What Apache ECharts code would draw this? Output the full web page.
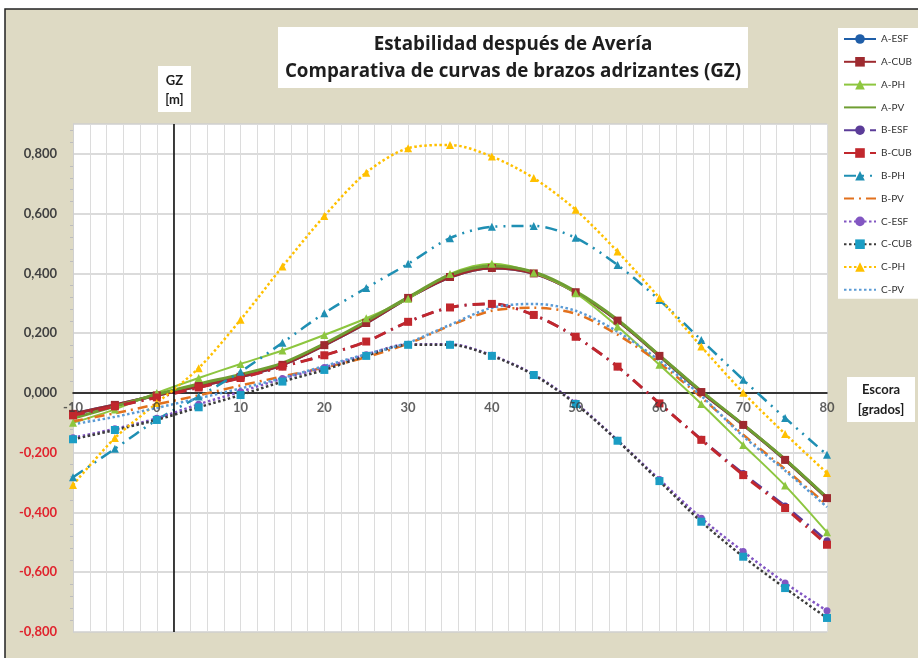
<!DOCTYPE html>
<html>
<head>
<meta charset="utf-8">
<script src="https://cdn.jsdelivr.net/npm/echarts@6/dist/echarts.min.js"></script>
<style>
  html, body { margin: 0; padding: 0; background: #ffffff; }
  #chart { width: 918px; height: 658px; }
</style>
</head>
<body>
<div id="chart"></div>
<script>
// Ángulo de escora [grados]
const escora = [-10, -5, 0, 5, 10, 15, 20, 25, 30, 35, 40, 45, 50, 55, 60, 65, 70, 75, 80];

// Rótulos del eje de escora (sobre la línea GZ = 0)
const marcasEscora = [-10, 0, 10, 20, 30, 40, 50, 60, 70, 80];

// Brazos adrizantes GZ [m] por condición de avería
const aEsf = [-0.070, -0.040, -0.008, 0.023, 0.054, 0.094, 0.160, 0.234, 0.318, 0.388, 0.418, 0.400, 0.337, 0.242, 0.124, 0.003, -0.107, -0.224, -0.352];
const aCub = [-0.070, -0.040, -0.008, 0.023, 0.054, 0.094, 0.160, 0.234, 0.318, 0.388, 0.418, 0.400, 0.337, 0.242, 0.124, 0.003, -0.107, -0.224, -0.352];
const aPh  = [-0.100, -0.055, 0.000, 0.050, 0.097, 0.142, 0.194, 0.250, 0.315, 0.398, 0.432, 0.402, 0.334, 0.222, 0.094, -0.037, -0.174, -0.310, -0.466];
const aPv  = [-0.085, -0.045, -0.005, 0.030, 0.062, 0.100, 0.165, 0.240, 0.320, 0.395, 0.425, 0.405, 0.340, 0.245, 0.126, 0.006, -0.106, -0.222, -0.350];
const bEsf = [-0.075, -0.045, -0.015, 0.018, 0.050, 0.088, 0.126, 0.172, 0.238, 0.286, 0.298, 0.261, 0.188, 0.088, -0.035, -0.155, -0.270, -0.378, -0.495];
const bCub = [-0.075, -0.045, -0.015, 0.018, 0.050, 0.088, 0.126, 0.172, 0.238, 0.286, 0.298, 0.261, 0.188, 0.088, -0.035, -0.157, -0.275, -0.385, -0.508];
const bPh  = [-0.282, -0.187, -0.090, -0.012, 0.071, 0.168, 0.267, 0.351, 0.432, 0.518, 0.556, 0.559, 0.519, 0.428, 0.311, 0.177, 0.044, -0.084, -0.207];
const bPv  = [-0.095, -0.068, -0.038, -0.008, 0.025, 0.055, 0.085, 0.120, 0.165, 0.225, 0.275, 0.285, 0.265, 0.195, 0.100, -0.015, -0.140, -0.255, -0.375];
const cEsf = [-0.150, -0.120, -0.085, -0.038, 0.004, 0.048, 0.085, 0.128, 0.163, 0.163, 0.126, 0.062, -0.034, -0.158, -0.290, -0.419, -0.531, -0.636, -0.729];
const cCub = [-0.155, -0.124, -0.090, -0.048, -0.007, 0.038, 0.077, 0.124, 0.161, 0.161, 0.124, 0.060, -0.037, -0.160, -0.295, -0.431, -0.548, -0.653, -0.753];
const cPh  = [-0.308, -0.151, -0.034, 0.083, 0.245, 0.423, 0.592, 0.737, 0.819, 0.830, 0.791, 0.719, 0.613, 0.473, 0.318, 0.155, 0.001, -0.137, -0.268];
const cPv  = [-0.105, -0.080, -0.050, -0.018, 0.015, 0.050, 0.090, 0.130, 0.168, 0.228, 0.285, 0.298, 0.275, 0.205, 0.108, -0.010, -0.145, -0.260, -0.382];

// Eje vertical GZ dibujado en esta escora
const ejeGZ = 2;

const FONT = 'Lato, "Open Sans", sans-serif';
const FONT_TITULO = '"Open Sans", Lato, sans-serif';

function pares(ys) {
  return escora.map((x, i) => [x, ys[i]]);
}

function serie(name, ys, cfg) {
  const conMarca = !!cfg.symbol;
  return {
    name: name,
    type: 'line',
    data: pares(ys),
    smooth: 0.3,
    symbol: cfg.symbol || 'circle',
    symbolSize: cfg.size || 8,
    showSymbol: conMarca,
    lineStyle: {
      color: cfg.line,
      width: cfg.width || 2.5,
      type: cfg.type || 'solid'
    },
    // las curvas sin marcador tampoco lo muestran en la leyenda
    itemStyle: { color: cfg.marker || cfg.line, opacity: conMarca ? 1 : 0 },
    emphasis: { disabled: true },
    z: 2
  };
}

const series = [
  serie('A-ESF', aEsf, { line: '#1f5ea8', symbol: 'circle', size: 7, width: 3 }),
  serie('A-CUB', aCub, { line: '#9e2a2f', symbol: 'rect', size: 8, width: 3 }),
  serie('A-PH',  aPh,  { line: '#8dc63f', symbol: 'triangle', size: 8, width: 2 }),
  serie('A-PV',  aPv,  { line: '#6f9e33', width: 3 }),
  serie('B-ESF', bEsf, { line: '#5b3c98', symbol: 'circle', size: 7, type: [12, 6, 2, 6] }),
  serie('B-CUB', bCub, { line: '#c1272d', symbol: 'rect', size: 8, width: 3, type: [12, 6, 2, 6] }),
  serie('B-PH',  bPh,  { line: '#1f8fb3', symbol: 'triangle', size: 8, type: [12, 6, 2, 6, 2, 6] }),
  serie('B-PV',  bPv,  { line: '#e2711d', type: [10, 5, 2, 5] }),
  serie('C-ESF', cEsf, { line: '#8256c2', symbol: 'circle', size: 7, type: [2.5, 2.5] }),
  serie('C-CUB', cCub, { line: '#3b3b3b', marker: '#1b9dc4', symbol: 'rect', size: 8, type: [2.5, 2.5] }),
  serie('C-PH',  cPh,  { line: '#ffc000', symbol: 'triangle', size: 8, type: [2.5, 2.5] }),
  serie('C-PV',  cPv,  { line: '#5b9bd5', type: [2.5, 2.5] })
];

const nombres = series.map(s => s.name);

// Línea vertical del eje GZ
series[0].markLine = {
  silent: true,
  symbol: 'none',
  label: { show: false },
  lineStyle: { color: '#000000', width: 1.5, type: 'solid' },
  data: [{ xAxis: ejeGZ }]
};

// Rótulos de escora colocados justo debajo de GZ = 0
series.push({
  name: 'rotulos-escora',
  type: 'scatter',
  data: marcasEscora.map(x => [x, 0]),
  symbolSize: 0,
  silent: true,
  z: 5,
  label: {
    show: true,
    position: 'bottom',
    distance: 8,
    fontFamily: FONT, fontWeight: 'bold', fontSize: 13, color: '#3a3a3a',
    formatter: p => String(p.value[0])
  }
});

function fmtGZ(v) {
  if (v > 0.85) return '';
  return v.toFixed(3).replace('.', ',');
}

const chart = echarts.init(document.getElementById('chart'), null, { renderer: 'canvas' });

chart.setOption({
  backgroundColor: '#ffffff',
  animation: false,
  textStyle: { fontFamily: FONT },
  graphic: [
    {
      type: 'rect', z: -10, silent: true,
      shape: { x: 5, y: 9, width: 930, height: 660 },
      style: { fill: '#dedac4', stroke: '#222222', lineWidth: 1.5 }
    },
    {
      type: 'rect', z: -9, silent: true,
      shape: { x: 73, y: 124, width: 754, height: 508 },
      style: { fill: '#ffffff' }
    },
    {
      type: 'group', left: 278, top: 27, silent: true,
      children: [
        { type: 'rect', shape: { x: 0, y: 0, width: 470, height: 61 }, style: { fill: '#ffffff' } },
        {
          type: 'text', x: 235, y: 31,
          style: {
            text: 'Estabilidad después de Avería\nComparativa de curvas de brazos adrizantes (GZ)',
            fontFamily: FONT_TITULO, fontWeight: 'bold', fontSize: 18.8, lineHeight: 27,
            fill: '#1e1e1e', align: 'center', verticalAlign: 'middle'
          }
        }
      ]
    },
    {
      type: 'group', left: 158, top: 66, silent: true,
      children: [
        { type: 'rect', shape: { x: 0, y: 0, width: 33, height: 46 }, style: { fill: '#ffffff' } },
        {
          type: 'text', x: 16.5, y: 24,
          style: {
            text: 'GZ\n[m]', fontFamily: FONT, fontWeight: 'bold', fontSize: 13, lineHeight: 19,
            fill: '#1e1e1e', align: 'center', verticalAlign: 'middle'
          }
        }
      ]
    },
    {
      type: 'group', left: 847, top: 377, silent: true,
      children: [
        { type: 'rect', shape: { x: 0, y: 0, width: 68, height: 45 }, style: { fill: '#ffffff' } },
        {
          type: 'text', x: 34, y: 23,
          style: {
            text: 'Escora\n[grados]', fontFamily: FONT, fontWeight: 'bold', fontSize: 13, lineHeight: 20,
            fill: '#1e1e1e', align: 'center', verticalAlign: 'middle'
          }
        }
      ]
    }
  ],
  legend: {
    orient: 'vertical',
    left: 838,
    top: 28,
    padding: [6, 6, 4, 5],
    backgroundColor: '#ffffff',
    itemWidth: 32,
    itemHeight: 12,
    itemGap: 12.8,
    textStyle: { fontFamily: FONT, fontSize: 10, color: '#333333' },
    selectedMode: false,
    data: nombres
  },
  grid: { left: 73, right: 91, top: 124, bottom: 26, containLabel: false },
  xAxis: {
    type: 'value',
    min: -10,
    max: 80,
    interval: 2,
    axisLine: { onZero: true, lineStyle: { color: '#000000', width: 1.5 } },
    axisTick: { show: false },
    axisLabel: { show: false },
    splitLine: { show: true, lineStyle: { color: '#dcdcdc', width: 1 } }
  },
  yAxis: {
    type: 'value',
    min: -0.8,
    max: 0.9,
    interval: 0.2,
    axisLine: { show: true, onZero: false, lineStyle: { color: '#d0d0d0', width: 1 } },
    axisTick: { show: false },
    minorTick: { show: true, splitNumber: 5, length: 3, lineStyle: { color: '#bdbdbd', width: 1 } },
    axisLabel: {
      margin: 16,
      fontFamily: FONT, fontWeight: 'bold', fontSize: 13,
      color: v => (Number(v) < 0 ? '#e0232d' : '#404040'),
      formatter: fmtGZ
    },
    splitLine: { show: true, lineStyle: { color: '#cfcfcf', width: 1.5 } }
  },
  series: series
});
</script>
</body>
</html>
